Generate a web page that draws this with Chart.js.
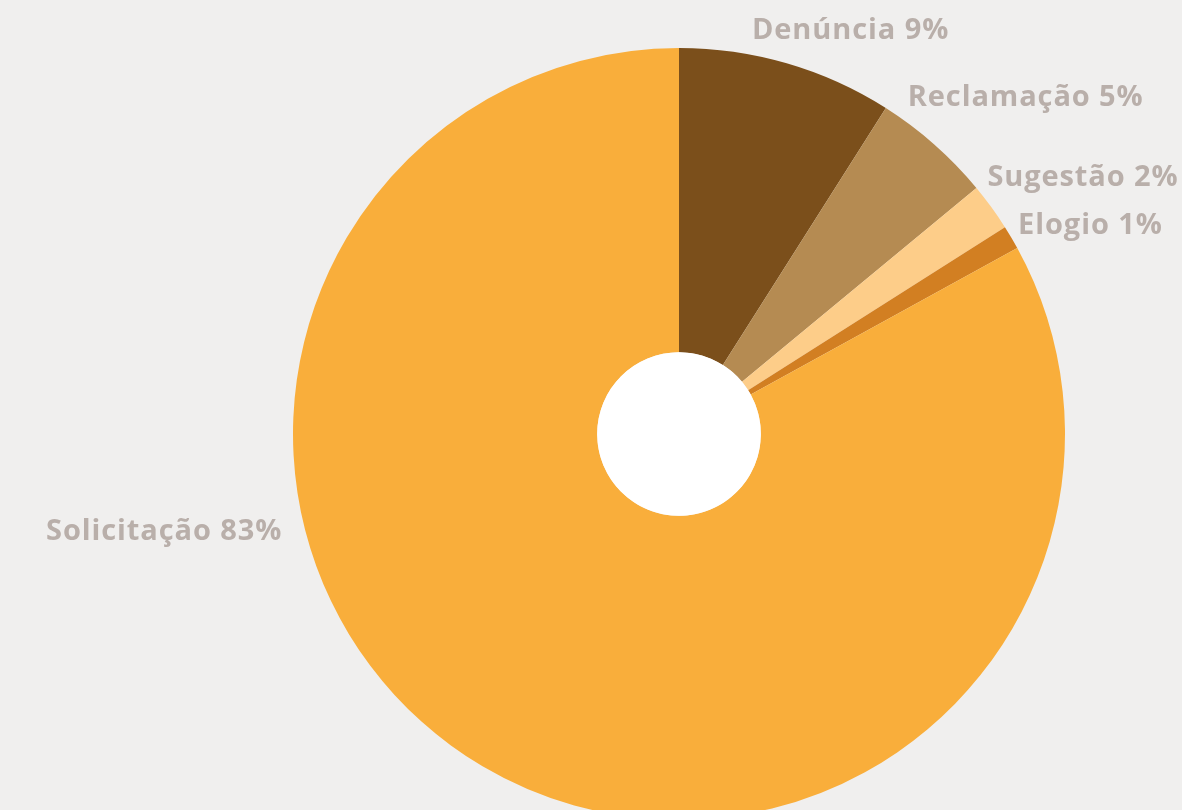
<!DOCTYPE html>
<html lang="pt">
<head>
<meta charset="utf-8">
<title>Manifestações por tipo</title>
<script src="https://cdn.jsdelivr.net/npm/chart.js@4.4.1/dist/chart.umd.min.js"></script>
<style>
    html, body { margin: 0; padding: 0; background: #f0efee; overflow: hidden; }
    .wrap { position: relative; width: 1182px; height: 840px; }
</style>
</head>
<body>
<div class="wrap"><canvas id="tipos"></canvas></div>
<script>
// dados (percentuais)
const categorias = ["Denúncia", "Reclamação", "Sugestão", "Elogio", "Solicitação"];
const valores = [9, 5, 2, 1, 83];
const cores = ["#7b4f1b", "#b58b52", "#fdcd89", "#d27f22", "#f9ae3b"];

// ajuste angular (graus) e distância extra dos rótulos
const deslocRotulos = [-6, -7.3, -3.9, -1.2, 45.9];
const afastRotulos = [26, 22, 16, 13, 22];

const rotulosPlugin = {
    id: "rotulos",
    afterDatasetsDraw(chart) {
        const ctx = chart.ctx;
        const arcs = chart.getDatasetMeta(0).data;
        const first = arcs[0];
        // furo central branco
        ctx.save();
        ctx.beginPath();
        ctx.arc(first.x, first.y, first.innerRadius, 0, Math.PI * 2);
        ctx.fillStyle = "#ffffff";
        ctx.fill();

        ctx.font = "bold 29px 'Open Sans', sans-serif";
        ctx.letterSpacing = "0.9px";
        ctx.fillStyle = "#b9afaa";
        ctx.textBaseline = "middle";
        arcs.forEach((arc, i) => {
            const mid = (arc.startAngle + arc.endAngle) / 2 + deslocRotulos[i] * Math.PI / 180;
            const r = arc.outerRadius + afastRotulos[i];
            const x = arc.x + Math.cos(mid) * r;
            const y = arc.y + Math.sin(mid) * r;
            ctx.textAlign = Math.cos(mid) >= 0 ? "left" : "right";
            ctx.fillText(categorias[i] + " " + valores[i] + "%", x, y + 2);
        });
        ctx.restore();
    }
};

new Chart(document.getElementById("tipos"), {
    type: "doughnut",
    data: {
        labels: categorias,
        datasets: [{
            data: valores,
            backgroundColor: cores,
            borderWidth: 0,
        }],
    },
    options: {
        responsive: true,
        maintainAspectRatio: false,
        animation: false,
        cutout: "21.2%",
        layout: { padding: { top: 48, bottom: 20, left: 293, right: 117 } },
        plugins: {
            legend: { display: false },
            tooltip: { enabled: false },
        },
    },
    plugins: [rotulosPlugin],
});
</script>
</body>
</html>
